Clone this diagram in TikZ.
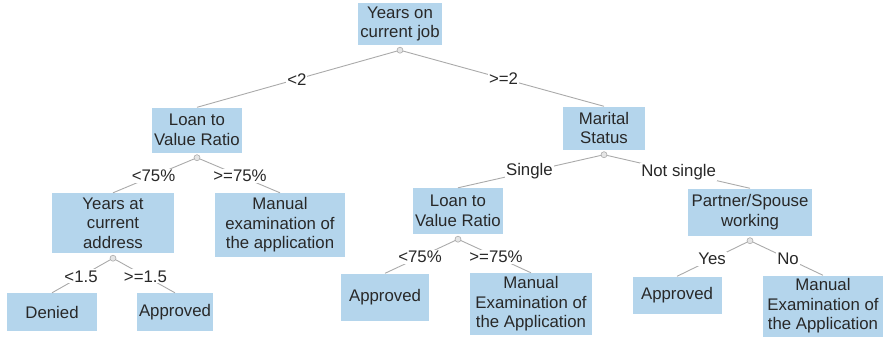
\documentclass[tikz,border=0pt]{standalone}
\usepackage{fontspec}
\setmainfont{Liberation Sans}
\usetikzlibrary{positioning}
\definecolor{boxblue}{RGB}{180,213,236}
\definecolor{linegray}{RGB}{170,170,170}
\definecolor{txtgray}{RGB}{40,40,40}
\tikzset{
  dbox/.style={rectangle,fill=boxblue,align=center,inner sep=2pt,text=txtgray,
    font=\fontsize{16.8}{19.5}\selectfont},
  branch/.style={draw=linegray,line width=0.9pt},
  lbl/.style={fill=white,inner sep=1pt,text=txtgray,font=\fontsize{16.8}{19.5}\selectfont},
  knot/.style={circle,draw=linegray,fill=black!10,inner sep=0pt,minimum size=6pt,line width=0.6pt},
}
\begin{document}
\begin{tikzpicture}[x=1pt,y=-1pt]
  \useasboundingbox (0,0) rectangle (883,338);
  % decision nodes
  \node[dbox,minimum width=84pt,minimum height=42pt] (job) at (400,24) {Years on\\current job};
  \node[dbox,minimum width=90pt,minimum height=45pt] (ltvA) at (197,130) {Loan to\\Value Ratio};
  \node[dbox,minimum width=82pt,minimum height=43pt] (marital) at (604,128) {Marital\\Status};
  \node[dbox,minimum width=122pt,minimum height=60pt] (addr) at (113,223) {Years at\\current\\address};
  \node[dbox,minimum width=90pt,minimum height=46pt] (ltvB) at (458,211) {Loan to\\Value Ratio};
  \node[dbox,minimum width=124pt,minimum height=47pt] (spouse) at (750,212) {Partner/Spouse\\working};
  % leaves
  \node[dbox,minimum width=130pt,minimum height=64pt] (manA) at (280,225) {Manual\\examination of\\the application};
  \node[dbox,minimum width=90pt,minimum height=38pt] (denied) at (52,312) {Denied};
  \node[dbox,minimum width=76pt,minimum height=38pt] (okA) at (175,312) {Approved};
  \node[dbox,minimum width=88pt,minimum height=47pt] (okB) at (385,297) {Approved};
  \node[dbox,minimum width=122pt,minimum height=62pt] (manB) at (531,304) {Manual\\Examination of\\the Application};
  \node[dbox,minimum width=89pt,minimum height=37pt] (okC) at (677,295) {Approved};
  \node[dbox,minimum width=120pt,minimum height=61pt] (manC) at (823,306) {Manual\\Examination of\\the Application};
  % split knots
  \node[knot] (kjob) at ([yshift=-5pt]job.south) {};
  \node[knot] (kltvA) at ([yshift=-5pt]ltvA.south) {};
  \node[knot] (kmarital) at ([yshift=-5pt]marital.south) {};
  \node[knot] (kaddr) at ([yshift=-5pt]addr.south) {};
  \node[knot] (kltvB) at ([yshift=-5pt]ltvB.south) {};
  \node[knot] (kspouse) at ([yshift=-5pt]spouse.south) {};
  % branches
  \draw[branch] (kjob) -- node[lbl] {<2} (ltvA.north);
  \draw[branch] (kjob) -- node[lbl] {>=2} (marital.north);
  \draw[branch] (kltvA) -- node[lbl] {<75\%} (addr.north);
  \draw[branch] (kltvA) -- node[lbl] {>=75\%} (manA.north);
  \draw[branch] (kaddr) -- node[lbl] {<1.5} (denied.north);
  \draw[branch] (kaddr) -- node[lbl] {>=1.5} (okA.north);
  \draw[branch] (kmarital) -- node[lbl] {Single} (ltvB.north);
  \draw[branch] (kmarital) -- node[lbl] {Not single} (spouse.north);
  \draw[branch] (kltvB) -- node[lbl] {<75\%} (okB.north);
  \draw[branch] (kltvB) -- node[lbl] {>=75\%} (manB.north);
  \draw[branch] (kspouse) -- node[lbl] {Yes} (okC.north);
  \draw[branch] (kspouse) -- node[lbl] {No} (manC.north);
\end{tikzpicture}
\end{document}
